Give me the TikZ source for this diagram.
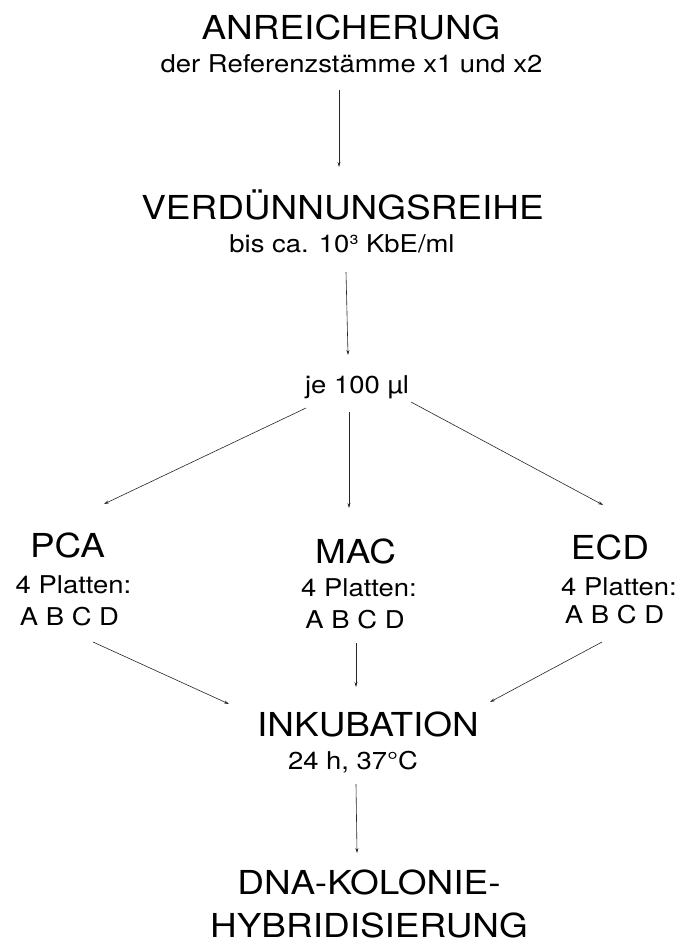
\documentclass[tikz,border=0pt]{standalone}
\usepackage{fontspec}
\usetikzlibrary{arrows.meta}
\newfontfamily\hvfont[FakeStretch=1.12]{TeX Gyre Heros}
\begin{document}
\begin{tikzpicture}[x=1pt,y=-1pt,
  bigtext/.style={font=\hvfont\fontsize{33}{36}\selectfont, inner sep=0pt, anchor=base},
  smalltext/.style={font=\hvfont\fontsize{24.5}{28}\selectfont, inner sep=0pt, anchor=base},
  flow/.style={draw=black!85, line width=0.6pt, -{Stealth[length=5pt,width=3pt]}}]
\useasboundingbox[fill=white] (0,0) rectangle (681,944);
% texts
\node[bigtext] (anr) at (351,40) {ANREICHERUNG};
\node[smalltext] (anrsub) at (351.5,73) {der Referenzstämme x1 und x2};
\node[bigtext] (verd) at (342.5,219) {VERDÜNNUNGSREIHE};
\node[smalltext] (verdsub) at (342,252) {bis ca. 10³ KbE/ml};
\node[smalltext] (je) at (357,393) {je 100 µl};
\node[bigtext] (pca) at (67.5,557) {PCA};
\node[smalltext] (pcaa) at (73.5,593) {4 Platten:};
\node[smalltext] (pcab) at (69.5,625) {A B C D};
\node[bigtext] (mac) at (355.5,563) {MAC};
\node[smalltext] (maca) at (359,596) {4 Platten:};
\node[smalltext] (macb) at (355,628) {A B C D};
\node[bigtext] (ecd) at (610,559) {ECD};
\node[smalltext] (ecda) at (619,595) {4 Platten:};
\node[smalltext] (ecdb) at (614.5,623) {A B C D};
\node[bigtext] (ink) at (368,736) {INKUBATION};
\node[smalltext] (inksub) at (353,769) {24 h, 37°C};
\node[bigtext] (dna) at (369,894) {DNA-KOLONIE-};
\node[bigtext] (hyb) at (369,937.5) {HYBRIDISIERUNG};
% connector end points
\coordinate (a1s) at (339,90);  \coordinate (a1e) at (339,167);
\coordinate (a2s) at (346,272); \coordinate (a2e) at (348,355);
\coordinate (jl) at (306,408);  \coordinate (pcat) at (104,504);
\coordinate (jm) at (349,412);  \coordinate (mact) at (349,508);
\coordinate (jr) at (411,402);  \coordinate (ecdt) at (603,505);
\coordinate (pcab2) at (93,642);  \coordinate (inkl) at (229,704);
\coordinate (macb2) at (356,643); \coordinate (inkm) at (356,687);
\coordinate (ecdb2) at (602,642); \coordinate (inkr) at (490,702);
\coordinate (a5s) at (356,784); \coordinate (a5e) at (357,853);
% connectors
\draw[flow] (a1s) -- (a1e);
\draw[flow] (a2s) -- (a2e);
\draw[flow] (jl) -- (pcat);
\draw[flow] (jm) -- (mact);
\draw[flow] (jr) -- (ecdt);
\draw[flow] (pcab2) -- (inkl);
\draw[flow] (macb2) -- (inkm);
\draw[flow] (ecdb2) -- (inkr);
\draw[flow] (a5s) -- (a5e);
\end{tikzpicture}
\end{document}
